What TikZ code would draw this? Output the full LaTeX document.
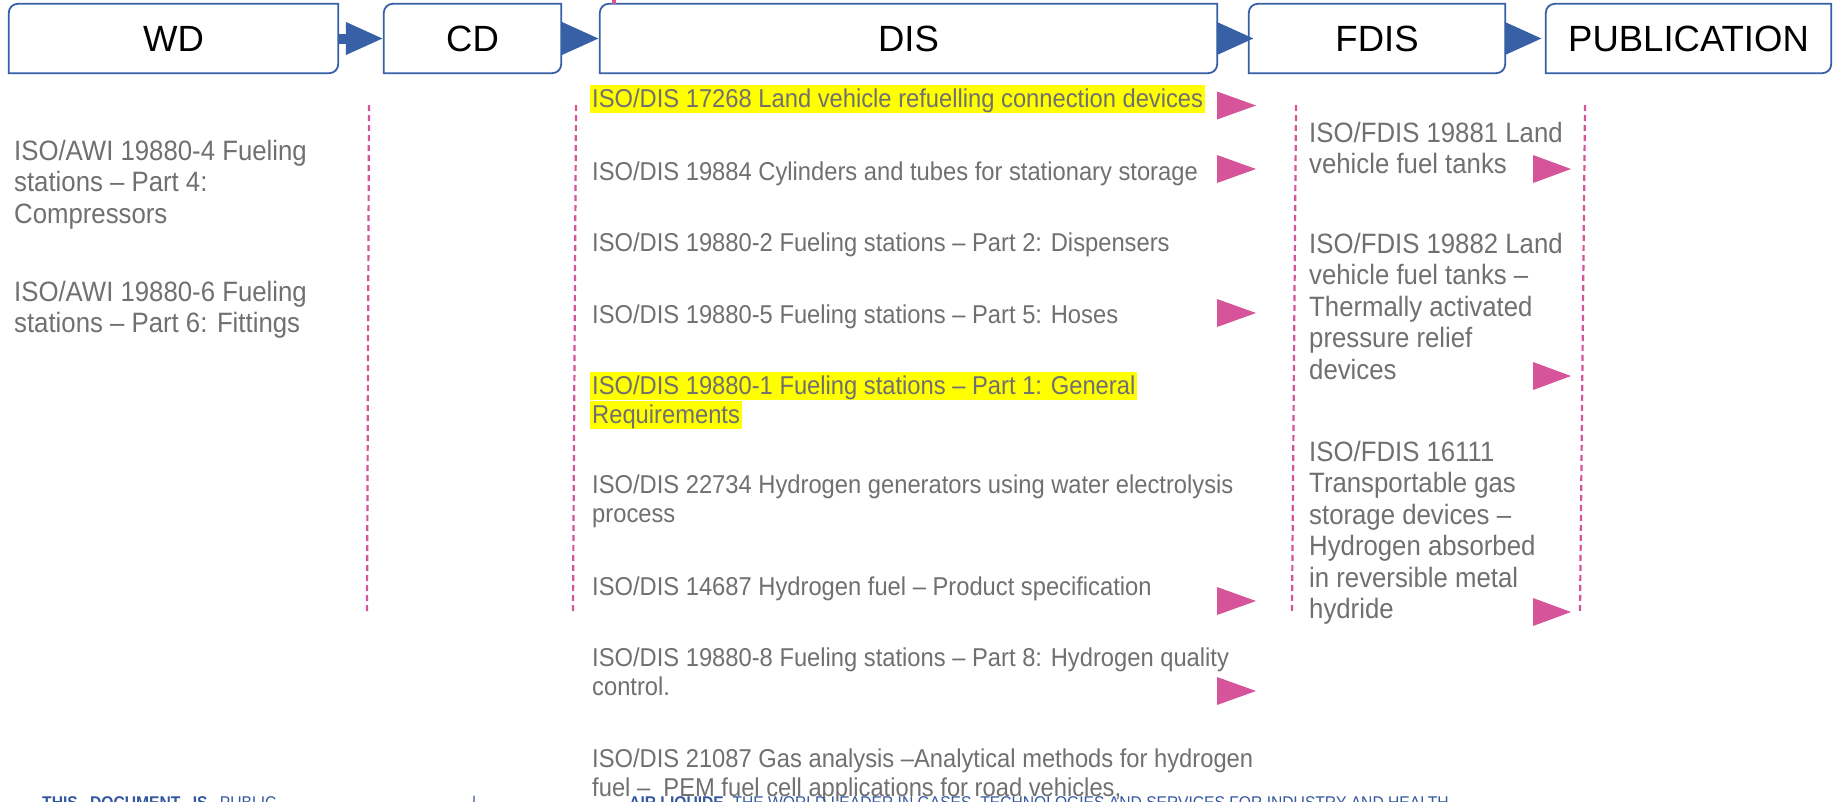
\documentclass[tikz,border=0pt]{standalone}
\usepackage{fontspec}
\setmainfont{Liberation Sans}
\newfontfamily\stagefont{Liberation Sans}
\newfontfamily\docfont{Liberation Sans}[FakeStretch=0.92]
\usetikzlibrary{arrows.meta,positioning}

\definecolor{stageblue}{RGB}{55,96,166}
\definecolor{flowpink}{RGB}{213,84,154}
\definecolor{docgray}{RGB}{112,112,112}
\definecolor{footblue}{RGB}{52,88,160}
\definecolor{hlyellow}{RGB}{255,255,0}

% yellow marker behind one line of text
\newcommand{\hl}[1]{{\setlength{\fboxsep}{0pt}\colorbox{hlyellow}{\kern2pt\rule[-0.25em]{0pt}{1.12em}#1\kern2pt}}}

\begin{document}
\begin{tikzpicture}[x=1pt,y=-1pt,
    stage/.style={minimum width=#1,minimum height=69pt,inner sep=0pt,
      font=\stagefont\fontsize{36.5}{40}\selectfont},
    flow/.style={draw=stageblue,line width=10pt,-{Triangle[length=38pt,width=30pt]}},
    doc/.style={anchor=base west,inner sep=0pt,align=left,text=docgray,
      font=\docfont\fontsize{28}{31.5}\selectfont},
    disdoc/.style={doc,font=\docfont\fontsize{25.8}{29}\selectfont},
    split/.style={draw=flowpink,line width=2.2pt,dash pattern=on 6pt off 4pt},
    foot/.style={anchor=base west,inner sep=0pt,text=footblue,
      font=\docfont\fontsize{17}{19}\selectfont}]

  \fill[white] (0,0) rectangle (1833,801);
  \useasboundingbox (0,0) rectangle (1833,801);
  \clip (0,0) rectangle (1833,801);

  % stages
  \node[stage=329pt] (WD) at (173.5,38.5) {WD};
  \node[stage=177pt] (CD) at (472.5,38.5) {CD};
  \node[stage=617pt] (DIS) at (908.5,38.5) {DIS};
  \node[stage=256pt] (FDIS) at (1377,38.5) {FDIS};
  \node[stage=285pt] (PUB) at (1688.5,38.5) {PUBLICATION};
  \foreach \s in {WD,CD,DIS,FDIS,PUB}
    \draw[stageblue,line width=1.8pt] (\s.west) [rounded corners=9pt] |- (\s.north)
      [sharp corners] -| (\s.east) [rounded corners=9pt] |- (\s.south)
      [sharp corners] -| (\s.west) -- cycle;

  \draw[flow] (WD.east) -- (CD.west);
  \draw[flow] (CD.east) -- (DIS.west);
  \draw[flow,shorten >=-6pt] (DIS.east) -- (FDIS.west);
  \draw[flow,shorten >=3pt] (FDIS.east) -- (PUB.west);

  \draw[flowpink,line width=4pt] (614,0) -- (614,4);

  % column separators
  \foreach \xa/\xb in {369/367,576/573,1296/1292,1585/1580}
    \draw[split] (\xa,105) -- (\xb,612);

  % documents moving on
  \foreach \y in {105.5,169,313,601,691}
    \fill[flowpink] (1217,\y-14) -- (1256,\y) -- (1217,\y+14) -- cycle;
  \foreach \y in {169,376,612}
    \fill[flowpink] (1533,\y-14) -- (1571,\y) -- (1533,\y+14) -- cycle;

  % WD (multi-line nodes sit on their last baseline)
  \node[doc] (AWI4) at (14,223) {ISO/AWI 19880-4 Fueling\\stations – Part 4:\\Compressors};
  \node[doc] (AWI6) at (14,332.5) {ISO/AWI 19880-6 Fueling\\stations – Part 6: Fittings};

  % DIS
  \node[disdoc] (D17268) at (590,107) {\hl{ISO/DIS 17268 Land vehicle refuelling connection devices}};
  \node[disdoc] (D19884) at (592,180) {ISO/DIS 19884 Cylinders and tubes for stationary storage};
  \node[disdoc] (D198802) at (592,251) {ISO/DIS 19880-2 Fueling stations – Part 2: Dispensers};
  \node[disdoc] (D198805) at (592,323) {ISO/DIS 19880-5 Fueling stations – Part 5: Hoses};
  \node[disdoc] (D198801) at (590,423) {\hl{ISO/DIS 19880-1 Fueling stations – Part 1: General}\\\hl{Requirements}};
  \node[disdoc] (D22734) at (592,522) {ISO/DIS 22734 Hydrogen generators using water electrolysis\\process};
  \node[disdoc] (D14687) at (592,595) {ISO/DIS 14687 Hydrogen fuel – Product specification};
  \node[disdoc] (D198808) at (592,695) {ISO/DIS 19880-8 Fueling stations – Part 8: Hydrogen quality\\control.};
  \node[disdoc] (D21087) at (592,796) {ISO/DIS 21087 Gas analysis –Analytical methods for hydrogen\\fuel –~ PEM fuel cell applications for road vehicles,};

  % FDIS
  \node[doc] (F19881) at (1309,173.5) {ISO/FDIS 19881 Land\\vehicle fuel tanks};
  \node[doc] (F19882) at (1309,379) {ISO/FDIS 19882 Land\\vehicle fuel tanks –\\Thermally activated\\pressure relief\\devices};
  \node[doc] (F16111) at (1309,618.5) {ISO/FDIS 16111\\Transportable gas\\storage devices –\\Hydrogen absorbed\\in reversible metal\\hydride};

  % footer
  \node[foot] (PUBLIC) at (42,808) {\textbf{THIS\hspace{8pt} DOCUMENT\hspace{8pt} IS}\hspace{8pt} PUBLIC};
  \node[foot] (BAR) at (472,808) {|};
  \node[foot] (AL) at (629,808) {\textbf{AIR LIQUIDE}, THE WORLD LEADER IN GASES, TECHNOLOGIES AND SERVICES FOR INDUSTRY AND HEALTH};
\end{tikzpicture}
\end{document}
